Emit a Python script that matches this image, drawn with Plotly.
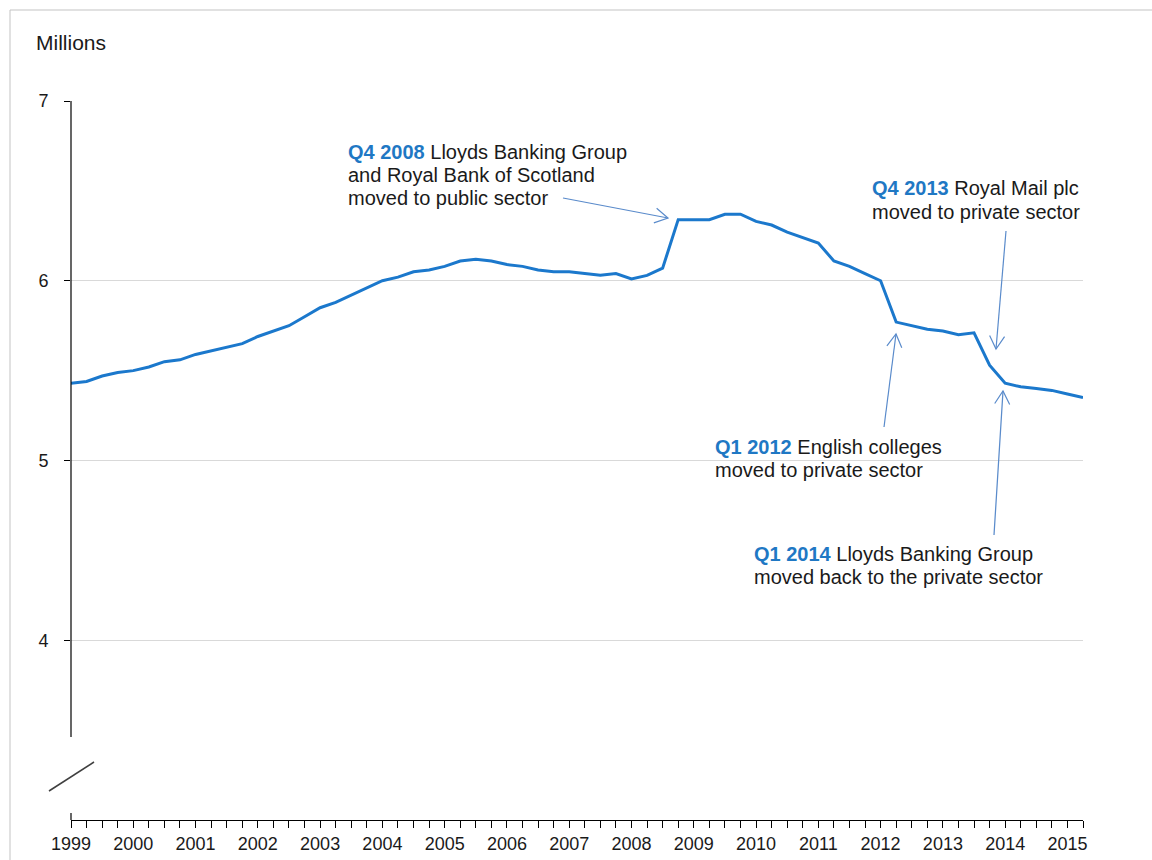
import math
import plotly.graph_objects as go

# ---------------- data ----------------
quarters = [f"{y} Q{q}" for y in range(1999, 2016) for q in range(1, 5)][:66]
employment_millions = [
    5.43, 5.44, 5.47, 5.49, 5.50, 5.52, 5.55, 5.56, 5.59, 5.61,
    5.63, 5.65, 5.69, 5.72, 5.75, 5.80, 5.85, 5.88, 5.92, 5.96,
    6.00, 6.02, 6.05, 6.06, 6.08, 6.11, 6.12, 6.11, 6.09, 6.08,
    6.06, 6.05, 6.05, 6.04, 6.03, 6.04, 6.01, 6.03, 6.07, 6.34,
    6.34, 6.34, 6.37, 6.37, 6.33, 6.31, 6.27, 6.24, 6.21, 6.11,
    6.08, 6.04, 6.00, 5.77, 5.75, 5.73, 5.72, 5.70, 5.71, 5.53,
    5.43, 5.41, 5.40, 5.39, 5.37, 5.35,
]
y_ticks = [4, 5, 6, 7]
x_pos = list(range(len(quarters)))
x_ticktext = [q.split(" ")[0] if q.endswith("Q1") else "" for q in quarters]

# ---------------- layout geometry (page pixels) ----------------
W, H = 1152, 860
L, R, T, B = 71, 1083, 101, 820  # plot area in page pixels

def px(x):
    return (x - L) / (R - L)

def py(y):
    return (B - y) / (B - T)

LINE_COLOR = "#1B78CC"
HILITE = "#1F78C4"
ARROW = "#5A8BCB"
TEXT = "#1a1a1a"
FONT = "Liberation Sans, Arial, sans-serif"

fig = go.Figure()
fig.add_trace(go.Scatter(
    x=x_pos, y=employment_millions, mode="lines",
    line=dict(color=LINE_COLOR, width=3), hoverinfo="skip", showlegend=False,
))

shapes = []
# outer light border (left and top edges visible)
shapes.append(dict(type="line", xref="paper", yref="paper",
                   x0=px(10), y0=py(10), x1=px(1160), y1=py(10),
                   line=dict(color="#c3c3c3", width=1), layer="below"))
shapes.append(dict(type="line", xref="paper", yref="paper",
                   x0=px(10), y0=py(10), x1=px(10), y1=py(870),
                   line=dict(color="#c3c3c3", width=1), layer="below"))
# y-axis line (broken)
shapes.append(dict(type="line", xref="paper", yref="paper",
                   x0=0, x1=0, y0=py(737), y1=1,
                   line=dict(color="black", width=1.2), layer="above"))
# tick crossing at origin
shapes.append(dict(type="line", xref="paper", yref="paper",
                   x0=0, x1=0, y0=py(820), y1=py(813),
                   line=dict(color="black", width=1.2), layer="above"))
# axis break mark
shapes.append(dict(type="line", xref="paper", yref="paper",
                   x0=px(49), y0=py(791), x1=px(94), y1=py(762),
                   line=dict(color="#404040", width=1.5), layer="above"))

# arrows (tail -> tip) with open V heads
arrows = [((563, 198), (668, 218)),
          ((1006, 231), (996, 349)),
          ((884, 427), (896, 334)),
          ((994, 535), (1003, 391))]
for (sx, sy), (tx, ty) in arrows:
    shapes.append(dict(type="line", xref="paper", yref="paper",
                       x0=px(sx), y0=py(sy), x1=px(tx), y1=py(ty),
                       line=dict(color=ARROW, width=1.2), layer="above"))
    ang = math.atan2(ty - sy, tx - sx)
    hl, ha = 15, math.radians(30)
    pts = []
    for s in (1, -1):
        a = ang + math.pi + s * ha
        pts.append((tx + hl * math.cos(a), ty + hl * math.sin(a)))
    path = (f"M {px(pts[0][0])},{py(pts[0][1])} L {px(tx)},{py(ty)} "
            f"L {px(pts[1][0])},{py(pts[1][1])}")
    shapes.append(dict(type="path", xref="paper", yref="paper", path=path,
                       line=dict(color=ARROW, width=1.2), layer="above"))

def b(t):
    return f"<b><span style='color:{HILITE}'>{t}</span></b>"

notes = [
    (349, 151, b("Q4 2008") + " Lloyds Banking Group"),
    (349, 174, "and Royal Bank of Scotland"),
    (349, 197, "moved to public sector"),
    (873, 187, b("Q4 2013") + " Royal Mail plc"),
    (873, 211, "moved to private sector"),
    (716, 446, b("Q1 2012") + " English colleges"),
    (716, 469, "moved to private sector"),
    (755, 553, b("Q1 2014") + " Lloyds Banking Group"),
    (755, 576, "moved back to the private sector"),
]
annotations = []
for x, y, t in notes:
    annotations.append(dict(xref="paper", yref="paper", x=px(x - 3), y=py(y + 1),
                            xanchor="left", yanchor="middle", text=t, showarrow=False,
                            font=dict(family=FONT, size=20, color=TEXT), align="left"))
annotations.append(dict(xref="paper", yref="paper", x=px(34), y=py(42),
                        xanchor="left", yanchor="middle", text="Millions",
                        showarrow=False, font=dict(family=FONT, size=21, color=TEXT)))

fig.update_layout(
    width=W, height=H,
    margin=dict(l=L, r=W - R, t=T, b=H - B, autoexpand=False),
    paper_bgcolor="white", plot_bgcolor="white",
    font=dict(family=FONT, color=TEXT),
    shapes=shapes, annotations=annotations, showlegend=False,
    xaxis=dict(range=[0, len(quarters) - 1], tickmode="array", tickvals=x_pos,
               ticktext=x_ticktext, ticks="outside", ticklen=7, tickcolor="black",
               tickwidth=1, showline=True, linecolor="black", linewidth=1.2,
               showgrid=False, zeroline=False, automargin=False,
               tickfont=dict(size=18, color=TEXT), tickangle=0, fixedrange=True),
    yaxis=dict(range=[3, 7], tickmode="array", tickvals=y_ticks,
               ticktext=[str(v) for v in y_ticks], ticks="outside", ticklen=6,
               tickcolor="black", showline=False, showgrid=True,
               gridcolor="#d9d9d9", gridwidth=1, zeroline=False, automargin=False,
               ticklabelstandoff=12, tickfont=dict(size=18, color=TEXT),
               fixedrange=True),
)

fig.write_html(
    "out.html",
    config={"displayModeBar": False, "staticPlot": True},
    post_script="document.body.style.margin='0px';document.body.style.overflow='hidden';",
)
